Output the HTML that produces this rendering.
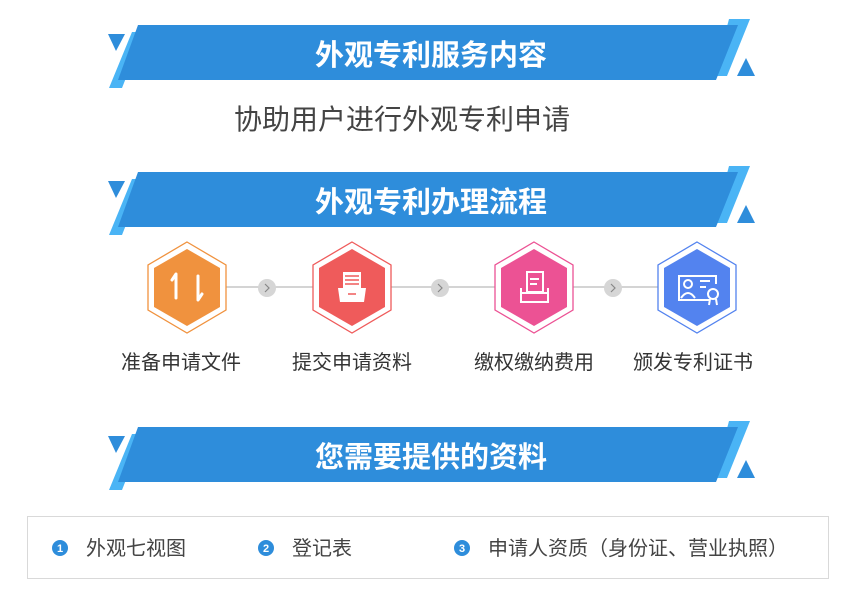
<!DOCTYPE html>
<html><head><meta charset="utf-8"><style>
html,body{margin:0;padding:0;background:#fff;}
svg{display:block;}
text{font-family:"Liberation Sans","Noto Sans CJK SC",sans-serif;}
</style></head><body>
<svg width="862" height="612" viewBox="0 0 862 612" xmlns="http://www.w3.org/2000/svg">
<defs>
<g id="banner">
  <polygon points="132,32 144,32 122,88 109,88" fill="#4ab4f5"/>
  <polygon points="729,19 750,19 727,76 714,76" fill="#4ab4f5"/>
  <polygon points="138,25 738,25 716,80 118,80" fill="#2e8ddb"/>
  <polygon points="108,34 125,34 116,51" fill="#2e8ddb"/>
  <polygon points="746,58 737,76 755,76" fill="#2e8ddb"/>
</g>
</defs>

<use href="#banner"/>
<text x="431" y="65" text-anchor="middle" font-size="29" font-weight="bold" fill="#fff">外观专利服务内容</text>
<text x="402" y="129" text-anchor="middle" font-size="28" fill="#444">协助用户进行外观专利申请</text>

<use href="#banner" transform="translate(0,147)"/>
<text x="431" y="212" text-anchor="middle" font-size="29" font-weight="bold" fill="#fff">外观专利办理流程</text>

<line x1="187" y1="287" x2="697" y2="287" stroke="#aaa" stroke-width="1"/>
<g fill="#d6d6d6">
<circle cx="267" cy="288" r="9"/><circle cx="440" cy="288" r="9"/><circle cx="613" cy="288" r="9"/>
</g>
<g fill="none" stroke="#888" stroke-width="1.2">
<polyline points="265,284 269,288 265,292"/><polyline points="438,284 442,288 438,292"/><polyline points="611,284 615,288 611,292"/>
</g>

<g>
<polygon points="187,242 226,265 226,310 187,333 148,310 148,265" fill="#fff" stroke="#f0923e" stroke-width="1.3"/>
<polygon points="187,249 220,268 220,307 187,326 154,307 154,268" fill="#f0923e"/>
<path d="M176,298 V274 L172,280 M198,276 V300 L202,294" stroke="#fff" stroke-width="3" fill="none" stroke-linecap="round" stroke-linejoin="round"/>

<polygon points="352,242 391,265 391,310 352,333 313,310 313,265" fill="#fff" stroke="#ef5b5b" stroke-width="1.3"/>
<polygon points="352,249 385,268 385,307 352,326 319,307 319,268" fill="#ef5b5b"/>
<g fill="#fff"><rect x="343" y="272" width="18" height="16"/><polygon points="338,288 366,288 364,302 340,302"/></g>
<g stroke="#ef5b5b" stroke-width="1.5"><line x1="345" y1="276" x2="359" y2="276"/><line x1="345" y1="280" x2="359" y2="280"/><line x1="345" y1="284" x2="359" y2="284"/><line x1="348" y1="294" x2="356" y2="294"/></g>

<polygon points="534,242 573,265 573,310 534,333 495,310 495,265" fill="#fff" stroke="#ec5294" stroke-width="1.3"/>
<polygon points="534,249 567,268 567,307 534,326 501,307 501,268" fill="#ec5294"/>
<g fill="none" stroke="#fff" stroke-width="2"><rect x="527" y="272" width="16" height="20"/><line x1="530" y1="279" x2="539" y2="279"/><line x1="530" y1="284" x2="537" y2="284"/><path d="M521,288 V302 H548 V288 M521,293 H548"/></g>

<polygon points="697,242 736,265 736,310 697,333 658,310 658,265" fill="#fff" stroke="#5383ef" stroke-width="1.3"/>
<polygon points="697,249 730,268 730,307 697,326 664,307 664,268" fill="#5383ef"/>
<g fill="none" stroke="#fff" stroke-width="2"><path d="M709,300 H679 V276 H716 V284"/><circle cx="688" cy="284" r="4"/><path d="M681,298 Q688,288 695,298"/><line x1="700" y1="281" x2="710" y2="281"/><line x1="700" y1="287" x2="706" y2="287"/><circle cx="713" cy="294" r="5"/><path d="M710,299 L709,305 M716,299 L717,305"/></g>
</g>

<g font-size="20" fill="#333" text-anchor="middle">
<text x="181" y="369">准备申请文件</text>
<text x="352" y="369">提交申请资料</text>
<text x="534" y="369">缴权缴纳费用</text>
<text x="693" y="369">颁发专利证书</text>
</g>

<use href="#banner" transform="translate(0,402)"/>
<text x="431" y="467" text-anchor="middle" font-size="29" font-weight="bold" fill="#fff">您需要提供的资料</text>

<rect x="27.5" y="516.5" width="801" height="62" fill="#fff" stroke="#d9d9d9" stroke-width="1"/>
<g fill="#2e8ddb"><circle cx="60" cy="548" r="8"/><circle cx="266" cy="548" r="8"/><circle cx="462" cy="548" r="8"/></g>
<g fill="#fff" font-size="11" font-weight="bold" text-anchor="middle"><text x="60" y="552">1</text><text x="266" y="552">2</text><text x="462" y="552">3</text></g>
<g font-size="20" fill="#444">
<text x="86" y="555">外观七视图</text>
<text x="292" y="555">登记表</text>
<text x="488" y="555">申请人资质（身份证、营业执照）</text>
</g>
</svg>
</body></html>
